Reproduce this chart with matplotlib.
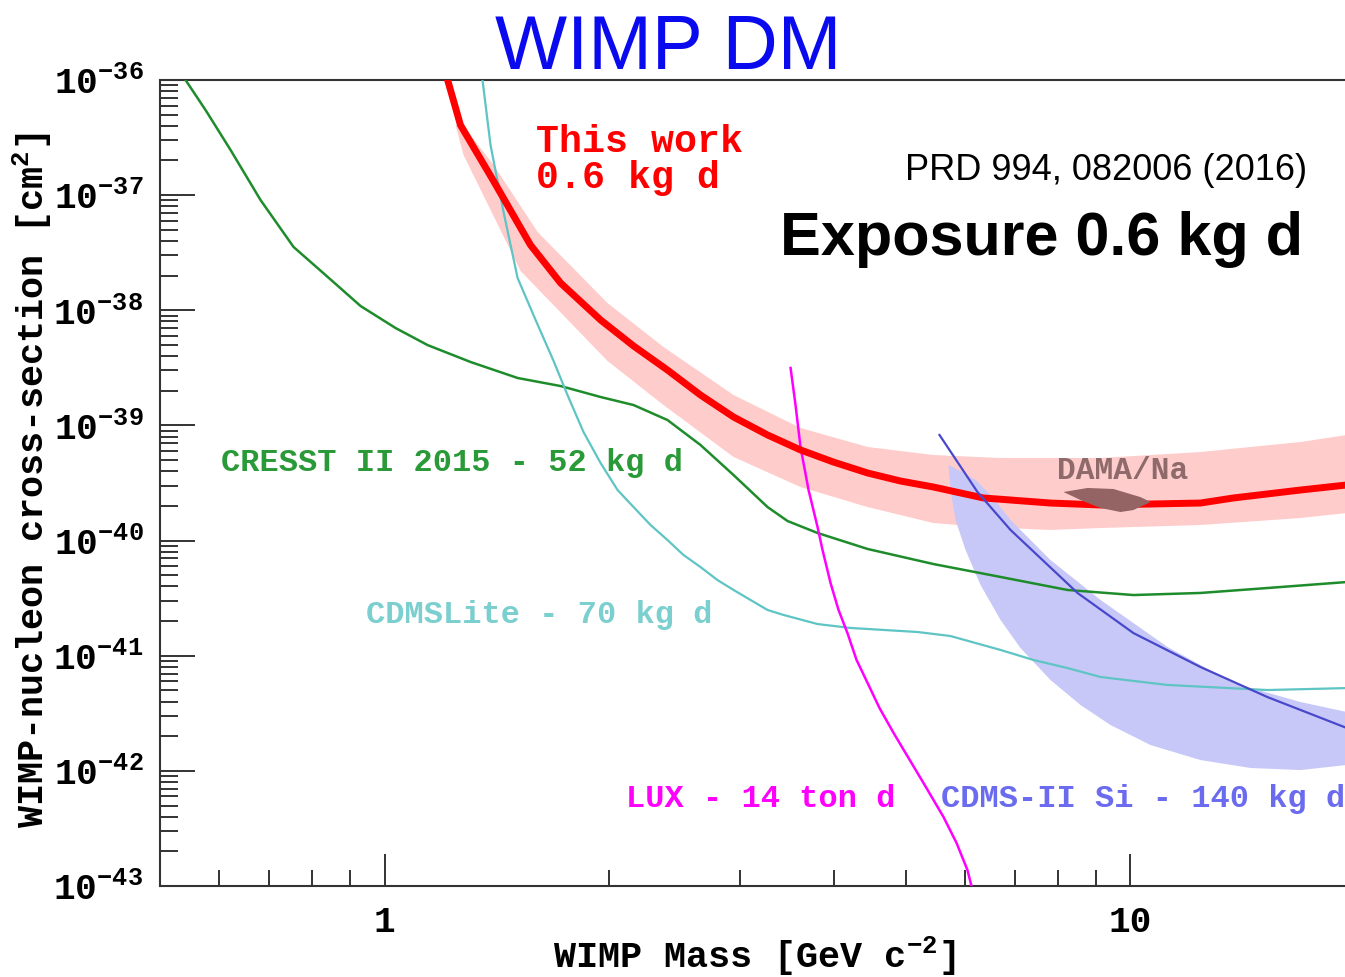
import numpy as np
import matplotlib
matplotlib.use("Agg")
import matplotlib.pyplot as plt
from matplotlib.ticker import FixedLocator, LogLocator, FuncFormatter, NullFormatter

plt.rcParams['mathtext.fontset'] = 'custom'
plt.rcParams['mathtext.rm'] = 'Liberation Mono:bold'
plt.rcParams['mathtext.bf'] = 'Liberation Mono:bold'
plt.rcParams['mathtext.it'] = 'Liberation Mono:bold'

# ---- data: WIMP mass [GeV] and log10 of cross-section [cm^2]
# This work (red line + band)
tw_mass = [1.215, 1.264, 1.400, 1.569, 1.722, 1.948, 2.157, 2.395, 2.652, 2.937, 3.262, 3.611,
           3.998, 4.442, 4.918, 5.445, 6.352, 7.812, 9.118, 12.41, 13.74, 16.90, 19.5]
tw_logs = [-36.0, -36.391, -36.877, -37.433, -37.763, -38.084, -38.310, -38.519, -38.736, -38.927,
           -39.083, -39.213, -39.318, -39.413, -39.483, -39.535, -39.630, -39.674, -39.691, -39.674,
           -39.630, -39.561, -39.517]
tw_up_mass = [1.272, 1.400, 1.604, 1.990, 2.366, 2.937, 3.611, 4.442, 5.445, 6.696,
              9.118, 12.41, 16.90, 19.5]
tw_up_logs = [-36.391, -36.738, -37.320, -37.937, -38.319, -38.736, -39.022, -39.187, -39.257, -39.283,
              -39.283, -39.231, -39.144, -39.083]
tw_lo_mass = [1.245, 1.276, 1.522, 1.990, 2.366, 2.937, 3.611, 4.442, 5.445, 6.352,
              7.812, 9.118, 12.41, 16.90, 19.5]
tw_lo_logs = [-36.391, -36.651, -37.659, -38.440, -38.823, -39.274, -39.535, -39.709, -39.848, -39.882,
              -39.908, -39.891, -39.865, -39.804, -39.761]

# CRESST II 2015
cresst_mass = [0.541, 0.5755, 0.6217, 0.6819, 0.7551, 0.8335, 0.9287, 1.0346, 1.142, 1.304, 1.508,
               1.722, 1.948, 2.157, 2.395, 2.652, 2.937, 3.262, 3.469, 3.806, 4.442, 5.445, 6.696,
               8.232, 10.09, 12.41, 15.26, 19.5]
cresst_logs = [-36.0, -36.261, -36.608, -37.042, -37.450, -37.694, -37.963, -38.154, -38.302, -38.449,
               -38.588, -38.658, -38.753, -38.823, -38.953, -39.170, -39.431, -39.709, -39.830, -39.934,
               -40.073, -40.204, -40.316, -40.429, -40.473, -40.455, -40.412, -40.360]

# CDMSLite
lite_mass = [1.353, 1.387, 1.443, 1.508, 1.594, 1.685, 1.759, 1.848, 1.948, 2.053, 2.157, 2.273,
             2.395, 2.516, 2.652, 2.795, 2.937, 3.095, 3.262, 3.427, 3.806, 4.215, 5.182, 5.737,
             6.696, 7.413, 8.232, 9.118, 11.21, 15.26, 19.5]
lite_logs = [-36.0, -36.565, -37.138, -37.720, -38.084, -38.440, -38.736, -39.057, -39.326, -39.561,
             -39.709, -39.865, -39.995, -40.125, -40.230, -40.343, -40.429, -40.516, -40.603, -40.646,
             -40.725, -40.759, -40.794, -40.829, -40.950, -41.037, -41.107, -41.185, -41.254, -41.298,
             -41.281]

# LUX
lux_mass = [3.502, 3.556, 3.611, 3.702, 3.806, 3.865, 3.962, 4.061, 4.174, 4.293, 4.442, 4.608,
            4.813, 5.040, 5.279, 5.615, 5.846, 6.045, 6.140]
lux_logs = [-38.501, -38.823, -39.187, -39.561, -39.882, -40.082, -40.369, -40.603, -40.803, -41.037,
            -41.237, -41.454, -41.671, -41.888, -42.106, -42.401, -42.627, -42.861, -43.035]

# CDMS-II Si line and region
si_mass = [5.546, 6.235, 6.906, 8.492, 10.09, 12.41, 15.26, 19.5]
si_logs = [-39.083, -39.578, -39.908, -40.455, -40.803, -41.098, -41.359, -41.628]
si_up_mass = [5.702, 5.918, 6.199, 6.493, 6.906, 7.812, 9.118, 11.21, 13.74, 16.90, 19.5]
si_up_logs = [-39.344, -39.396, -39.474, -39.604, -39.821, -40.169, -40.516, -40.924, -41.237,
              -41.402, -41.489]
si_lo_mass = [5.702, 5.737, 5.827, 6.010, 6.295, 6.696, 7.120, 7.812, 8.570, 9.402, 10.64,
              12.41, 14.48, 16.90, 19.5]
si_lo_logs = [-39.344, -39.561, -39.821, -40.082, -40.386, -40.690, -40.933, -41.211, -41.428,
              -41.602, -41.776, -41.906, -41.975, -41.993, -41.949]

# DAMA/Na region
dama_mass = [8.132, 8.758, 9.490, 10.31, 10.64, 10.09, 9.696, 9.118, 8.570]
dama_logs = [-39.578, -39.543, -39.552, -39.622, -39.665, -39.735, -39.752, -39.717, -39.648]

x_ticks = [1, 10]
y_exps = [-43, -42, -41, -40, -39, -38, -37, -36]

mono = 'Liberation Mono'

fig = plt.figure(figsize=(13.45, 9.77), dpi=100)
ax = fig.add_axes([0.11896, 0.09314, 0.8885, 0.82497])
ax.set_xscale('log')
ax.set_yscale('log')
ax.set_xlim(0.5, 20)
ax.set_ylim(1e-43, 1e-36)

def pw(a):
    return 10.0 ** np.array(a)

# bands
ax.fill(np.r_[tw_up_mass, tw_lo_mass[::-1]], pw(np.r_[tw_up_logs, tw_lo_logs[::-1]]),
        color='#ffcccc', lw=0, zorder=1)
ax.fill(np.r_[si_up_mass, si_lo_mass[::-1]], pw(np.r_[si_up_logs, si_lo_logs[::-1]]),
        color='#c8c8f8', lw=0, zorder=2)

# lines
ax.plot(cresst_mass, pw(cresst_logs), color='#1f8c2c', lw=1.8, zorder=3, solid_joinstyle='round')
ax.plot(lite_mass, pw(lite_logs), color='#5ec4c4', lw=1.6, zorder=3, solid_joinstyle='round')
ax.plot(lux_mass, pw(lux_logs), color='#ff00ff', lw=1.8, zorder=3, solid_joinstyle='round')
ax.plot(tw_mass, pw(tw_logs), color='#ff0000', lw=5, zorder=4, solid_joinstyle='round')
ax.fill(dama_mass, pw(dama_logs), color='#946464', lw=0, zorder=5)
ax.plot(si_mass, pw(si_logs), color='#4848cc', lw=1.6, zorder=6, solid_joinstyle='round')

# labels on plot
ax.text(1.594, pw(-36.625), 'This work', color='#ff0000', fontsize=27.5,
        family=mono, weight='bold', va='baseline')
ax.text(1.594, pw(-36.938), '0.6 kg d', color='#ff0000', fontsize=27.5,
        family=mono, weight='bold', va='baseline')
ax.text(0.603, pw(-39.396), 'CRESST II 2015 - 52 kg d', color='#2a9a38', fontsize=23,
        family=mono, weight='bold', va='baseline')
ax.text(0.943, pw(-40.716), 'CDMSLite - 70 kg d', color='#7ccfcf', fontsize=23,
        family=mono, weight='bold', va='baseline')
ax.text(2.104, pw(-42.314), 'LUX - 14 ton d', color='#ff00ff', fontsize=23,
        family=mono, weight='bold', va='baseline')
ax.text(5.564, pw(-42.314), 'CDMS-II Si - 140 kg d', color='#6b6bf0', fontsize=23,
        family=mono, weight='bold', va='baseline')
ax.text(7.98, pw(-39.465), 'DAMA/Na', color='#8f6a6a', fontsize=22.5,
        family=mono, weight='bold', va='baseline', zorder=6)

# axes styling
for s in ['left', 'bottom', 'top']:
    ax.spines[s].set_linewidth(1.5)
    ax.spines[s].set_color('#333333')
ax.spines['right'].set_visible(False)

ax.xaxis.set_major_locator(FixedLocator(x_ticks))
ax.xaxis.set_minor_locator(LogLocator(base=10, subs=np.arange(2, 10), numticks=20))
ax.yaxis.set_major_locator(FixedLocator(pw(y_exps)))
ax.yaxis.set_minor_locator(LogLocator(base=10, subs=np.arange(2, 10), numticks=40))
ax.xaxis.set_major_formatter(FuncFormatter(lambda v, p: '%g' % v))
ax.xaxis.set_minor_formatter(NullFormatter())
ax.yaxis.set_major_formatter(FuncFormatter(lambda v, p: r'$\mathbf{10^{%d}}$' % round(np.log10(v))))
ax.yaxis.set_minor_formatter(NullFormatter())

ax.tick_params(axis='x', which='major', direction='in', length=23, width=1.4, color='#333333',
               pad=14, top=False)
ax.tick_params(axis='x', which='minor', direction='in', length=11.5, width=1.4, color='#333333',
               top=False)
ax.tick_params(axis='y', which='major', direction='in', length=25, width=1.4, color='#333333',
               pad=12, right=False)
ax.tick_params(axis='y', which='minor', direction='in', length=13, width=1.4, color='#333333',
               right=False)
for lab in ax.get_xticklabels():
    lab.set_fontfamily(mono)
    lab.set_fontweight('bold')
    lab.set_fontsize(26)
for lab in ax.get_yticklabels():
    lab.set_fontsize(26)

fig.text(754 / 1345, 1 - 956 / 977, r'WIMP Mass [GeV c$^{-2}$]', family=mono, weight='bold',
         fontsize=26.5, ha='center', va='center')
fig.text(32 / 1345, 1 - 480 / 977, r'WIMP-nucleon cross-section [cm$^{2}$]', family=mono,
         weight='bold', fontsize=26.5, ha='center', va='center', rotation=90)

fig.text(668 / 1345, 1 - 69 / 977, 'WIMP DM', color='#0a0aee', fontsize=55,
         family='Liberation Sans', ha='center', va='baseline')
fig.text(1307 / 1345, 1 - 180 / 977, 'PRD 994, 082006 (2016)', color='black', fontsize=26,
         family='Liberation Sans', ha='right', va='baseline')
fig.text(1303 / 1345, 1 - 255 / 977, 'Exposure 0.6 kg d', color='black', fontsize=44,
         family='Liberation Sans', weight='bold', ha='right', va='baseline')

fig.savefig('out.png', dpi=100)
